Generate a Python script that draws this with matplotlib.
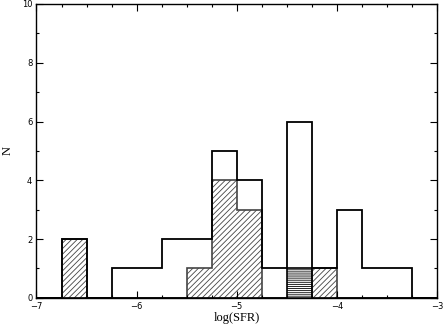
import matplotlib
matplotlib.use("Agg")
import matplotlib.pyplot as plt
import numpy as np
from matplotlib.ticker import MultipleLocator

# bin edges in log(SFR), width 0.25
edges = np.arange(-7.0, -3.0 + 0.001, 0.25)

# total sample (open histogram)
n_all = [0, 2, 0, 1, 1, 2, 2, 5, 4, 1, 6, 1, 3, 1, 1, 0]
# diagonal-hatched subsample
n_diag = [0, 2, 0, 0, 0, 0, 1, 4, 3, 0, 0, 1, 0, 0, 0, 0]
# horizontal-hatched subsample
n_horiz = [0, 0, 0, 0, 0, 0, 0, 0, 0, 0, 1, 0, 0, 0, 0, 0]

plt.rcParams['hatch.linewidth'] = 0.6
fig = plt.figure(figsize=(4.45, 3.27), dpi=100)
ax = fig.add_axes([0.082, 0.089, 0.9, 0.899])

ax.stairs(n_diag, edges, fill=True, facecolor='none', hatch='//////',
          edgecolor='#444444', linewidth=1.2)
ax.stairs(n_horiz, edges, fill=True, facecolor='none', hatch='--------',
          edgecolor='black', linewidth=1.2)
ax.stairs(n_all, edges, color='black', linewidth=1.3)

ax.set_xlim(-7, -3)
ax.set_ylim(0, 10)
ax.xaxis.set_major_locator(MultipleLocator(1))
ax.xaxis.set_minor_locator(MultipleLocator(0.25))
ax.yaxis.set_major_locator(MultipleLocator(2))
ax.yaxis.set_minor_locator(MultipleLocator(1))
ax.tick_params(which='both', direction='in', top=True, right=True,
               labelsize=6, width=0.8, pad=3)
ax.tick_params(which='major', length=5)
ax.tick_params(which='minor', length=2.5)
ax.set_xticks([-7, -6, -5, -4, -3])
ax.set_xticklabels(['\u22127', '\u22126', '\u22125', '\u22124', '\u22123'])
ax.set_yticks([0, 2, 4, 6, 8, 10])
for s in ax.spines.values():
    s.set_linewidth(1.0)

ax.set_xlabel('log(SFR)', family='Liberation Serif', fontsize=9, labelpad=1)
ax.set_ylabel('N', family='Liberation Serif', fontsize=9, labelpad=6)

fig.savefig('out.png', dpi=100)
